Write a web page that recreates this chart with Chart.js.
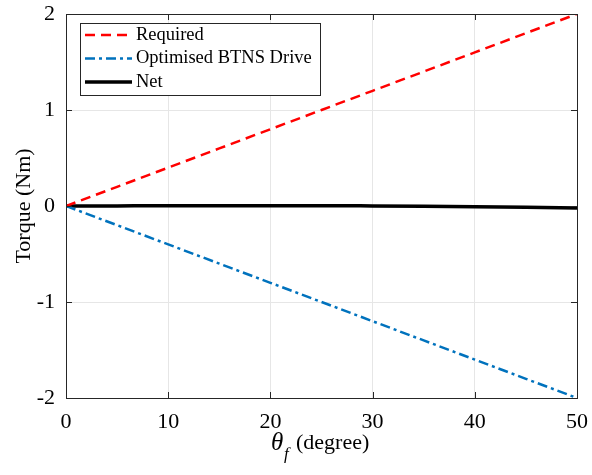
<!DOCTYPE html>
<html>
<head>
<meta charset="utf-8">
<script src="https://cdn.jsdelivr.net/npm/chart.js@4/dist/chart.umd.min.js"></script>
<style>
  html, body { margin: 0; padding: 0; background: #fff; }
  #wrap { width: 592px; height: 475px; }
</style>
</head>
<body>
<div id="wrap"><canvas id="chartTorque"></canvas></div>
<script>
// datos
const angulos = [0, 5, 10, 15, 20, 25, 30, 35, 40, 45, 50];
const requerido = [0, 0.2, 0.4, 0.6, 0.8, 1.0, 1.2, 1.4, 1.6, 1.8, 2.0];
const accionamiento = [0, -0.2, -0.4, -0.6, -0.8, -1.0, -1.2, -1.4, -1.6, -1.8, -2.0];
const neto = [0, 0.001, 0.002, 0.003, 0.003, 0.003, 0.001, -0.002, -0.007, -0.013, -0.02];
const ticksX = [0, 10, 20, 30, 40, 50];
const ticksY = [-2, -1, 0, 1, 2];
const nombres = ["Required", "Optimised BTNS Drive", "Net"];

const fuente = "'Liberation Serif', 'Times New Roman', serif";

function puntos(ys) {
  return angulos.map((x, i) => ({ x: x, y: ys[i] }));
}

function sinRelleno(s) {
  s.paddingTop = 0;
  s.paddingBottom = 0;
  s.paddingLeft = 0;
  s.paddingRight = 0;
}

// ==========================
//  Marco, ticks internos, leyenda y titulos
// ==========================
const marcoMatlab = {
  id: "marcoMatlab",
  afterDatasetsDraw(chart) {
    const ctx = chart.ctx;
    const a = chart.chartArea;
    const sx = chart.scales.x;
    const sy = chart.scales.y;
    ctx.save();
    ctx.strokeStyle = "#262626";
    ctx.lineWidth = 1;
    ctx.setLineDash([]);
    ctx.strokeRect(a.left + 0.5, a.top + 0.5, a.right - a.left, a.bottom - a.top);
    ctx.beginPath();
    ticksX.forEach((v) => {
      const px = Math.round(sx.getPixelForValue(v)) + 0.5;
      ctx.moveTo(px, a.bottom); ctx.lineTo(px, a.bottom - 6);
      ctx.moveTo(px, a.top); ctx.lineTo(px, a.top + 6);
    });
    ticksY.forEach((v) => {
      const py = Math.round(sy.getPixelForValue(v)) + 0.5;
      ctx.moveTo(a.left, py); ctx.lineTo(a.left + 6, py);
      ctx.moveTo(a.right, py); ctx.lineTo(a.right - 6, py);
    });
    ctx.stroke();

    // leyenda con recuadro
    const lx = 80, ly = 23, lw = 240, lh = 72;
    ctx.fillStyle = "#fff";
    ctx.fillRect(lx, ly, lw, lh);
    ctx.strokeStyle = "#262626";
    ctx.strokeRect(lx + 0.5, ly + 0.5, lw, lh);
    ctx.font = "18.5px " + fuente;
    ctx.textBaseline = "middle";
    chart.data.datasets.forEach((ds, i) => {
      const yy = ly + 12 + i * 23.5;
      ctx.beginPath();
      ctx.strokeStyle = ds.borderColor;
      ctx.lineWidth = ds.borderWidth;
      ctx.setLineDash(ds.borderDash || []);
      ctx.moveTo(lx + 5, yy);
      ctx.lineTo(lx + 52, yy);
      ctx.stroke();
      ctx.setLineDash([]);
      ctx.fillStyle = "#000";
      ctx.fillText(nombres[i], lx + 56, yy);
    });

    // titulo eje y
    ctx.font = "22px " + fuente;
    ctx.fillStyle = "#000";
    ctx.textAlign = "center";
    ctx.save();
    ctx.translate(24, (a.top + a.bottom) / 2);
    ctx.rotate(-Math.PI / 2);
    ctx.fillText("Torque (Nm)", 0, 0);
    ctx.restore();

    // titulo eje x: theta_f (degree)
    ctx.textAlign = "left";
    ctx.font = "italic 25px " + fuente;
    ctx.fillText("\u03b8", 271, 443);
    ctx.font = "italic 17px " + fuente;
    ctx.fillText("f", 284, 455);
    ctx.font = "22px " + fuente;
    ctx.fillText("(degree)", 296, 443);
    ctx.restore();
  },
};

new Chart(document.getElementById("chartTorque").getContext("2d"), {
  type: "line",
  data: {
    datasets: [
      {
        label: nombres[0],
        data: puntos(requerido),
        borderColor: "#ff0000",
        borderWidth: 2.5,
        borderDash: [10, 6],
        pointRadius: 0,
      },
      {
        label: nombres[1],
        data: puntos(accionamiento),
        borderColor: "#0072bd",
        borderWidth: 2.5,
        borderDash: [10, 4, 3, 4],
        pointRadius: 0,
      },
      {
        label: nombres[2],
        data: puntos(neto),
        borderColor: "#000000",
        borderWidth: 3.5,
        cubicInterpolationMode: "monotone",
        pointRadius: 0,
      },
    ],
  },
  options: {
    responsive: true,
    maintainAspectRatio: false,
    animation: false,
    layout: { padding: { left: 0, top: 14, right: 15, bottom: 0 } },
    plugins: { legend: { display: false }, tooltip: { enabled: false } },
    scales: {
      x: {
        type: "linear",
        min: 0,
        max: 50,
        afterBuildTicks: (s) => { s.ticks = ticksX.map((v) => ({ value: v })); },
        afterFit: (s) => { s.height = 77; sinRelleno(s); },
        grid: { color: "#e6e6e6", drawTicks: false },
        border: { display: false },
        ticks: { color: "#000", font: { family: fuente, size: 22 }, padding: 11, maxRotation: 0 },
      },
      y: {
        min: -2,
        max: 2,
        afterBuildTicks: (s) => { s.ticks = ticksY.map((v) => ({ value: v })); },
        afterFit: (s) => { s.width = 66; sinRelleno(s); },
        grid: { color: "#e6e6e6", drawTicks: false },
        border: { display: false },
        ticks: { color: "#000", font: { family: fuente, size: 22 }, padding: 11 },
      },
    },
  },
  plugins: [marcoMatlab],
});
</script>
</body>
</html>
